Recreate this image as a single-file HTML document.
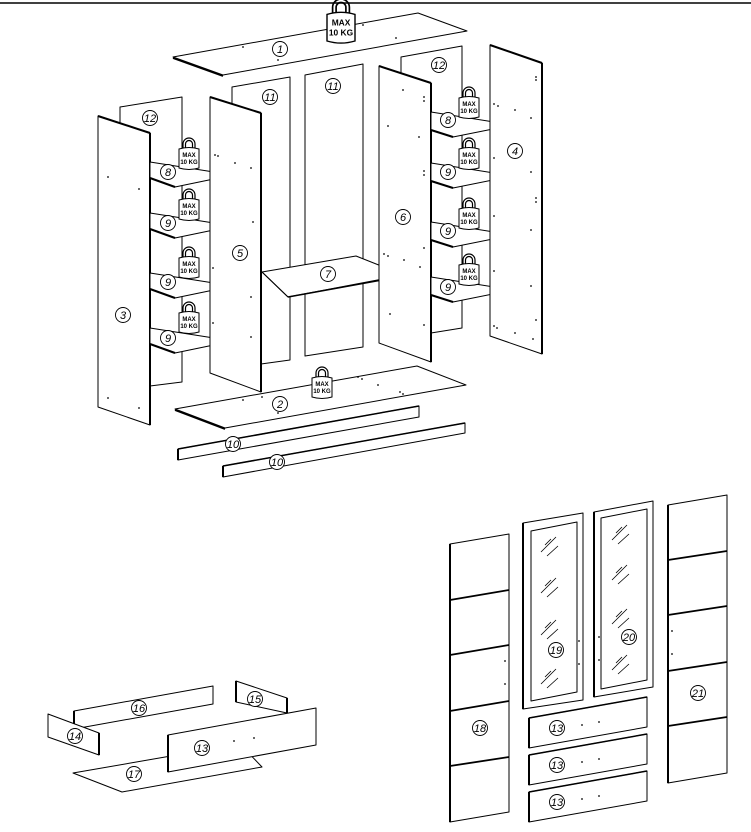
<!DOCTYPE html>
<html><head><meta charset="utf-8"><style>
html,body{margin:0;padding:0;background:#fff;}
svg{display:block;}
text{font-family:"Liberation Sans",sans-serif;}
.p{fill:#fff;stroke:#000;stroke-width:1;stroke-linejoin:round;}
.t{fill:#000;stroke:#000;stroke-width:1;}
.lb{font-size:11px;font-style:italic;text-anchor:middle;}
.c{fill:#fff;stroke:#000;stroke-width:0.9;}
.w{font-size:6px;font-weight:bold;text-anchor:middle;}
.d{fill:#000;}
</style></head><body>
<svg width="751" height="832" viewBox="0 0 751 832" xmlns="http://www.w3.org/2000/svg">
<line x1="0" y1="3" x2="751" y2="3" stroke="#000" stroke-width="1.5"/>

<polygon class="p" points="120,107 182,97 182,382 150,386 120,390"/>
<polygon class="p" points="232,87 290,77 290,360 261,364 232,368"/>
<polygon class="p" points="305,75 363,64 363,347 305,356"/>
<polygon class="p" points="401,57 462,46 462,328 431,333 401,338"/>

<polygon class="p" points="173,57 418,13 467,31 223,75"/>
<line x1="173" y1="58" x2="223" y2="76" stroke="#000" stroke-width="1.8"/>

<polygon class="p" points="98,116 150,133 150,425 98,407"/>
<line x1="98" y1="116" x2="150" y2="133" stroke="#000" stroke-width="2"/>
<line x1="150" y1="133" x2="150" y2="425" stroke="#000" stroke-width="2"/>

<g>
<polygon class="p" points="150,162 233,175 175,187 150,178"/><line x1="150" y1="178" x2="175" y2="187" stroke="#000" stroke-width="2"/>
<polygon class="p" points="150,213 233,226 175,238 150,229"/><line x1="150" y1="229" x2="175" y2="238" stroke="#000" stroke-width="2"/>
<polygon class="p" points="150,273 233,286 175,298 150,289"/><line x1="150" y1="289" x2="175" y2="298" stroke="#000" stroke-width="2"/>
<polygon class="p" points="150,328 233,341 175,353 150,344"/><line x1="150" y1="344" x2="175" y2="353" stroke="#000" stroke-width="2"/>
</g>

<polygon class="p" points="210,97 261,113 261,392 210,373"/>
<line x1="210" y1="97" x2="261" y2="113" stroke="#000" stroke-width="2"/>
<line x1="261" y1="113" x2="261" y2="392" stroke="#000" stroke-width="2"/>

<polygon class="p" points="262,272 356,256 404,275 288,297"/>
<line x1="262" y1="272" x2="288" y2="297" stroke="#000" stroke-width="1"/>
<line x1="288" y1="297" x2="404" y2="276" stroke="#000" stroke-width="1.5"/>

<polygon class="p" points="379,66 431,83 431,362 379,343"/>
<line x1="379" y1="66" x2="431" y2="83" stroke="#000" stroke-width="2"/>
<line x1="431" y1="83" x2="431" y2="362" stroke="#000" stroke-width="2"/>

<polygon class="p" points="431,112 513,125 453,137 431,130"/><line x1="431" y1="130" x2="453" y2="137" stroke="#000" stroke-width="2"/>
<polygon class="p" points="431,163 513,176 453,188 431,181"/><line x1="431" y1="181" x2="453" y2="188" stroke="#000" stroke-width="2"/>
<polygon class="p" points="431,222 513,235 453,247 431,240"/><line x1="431" y1="240" x2="453" y2="247" stroke="#000" stroke-width="2"/>
<polygon class="p" points="431,277 513,290 453,302 431,295"/><line x1="431" y1="295" x2="453" y2="302" stroke="#000" stroke-width="2"/>

<polygon class="p" points="490,45 542,63 542,354 490,336"/>
<line x1="490" y1="45" x2="542" y2="63" stroke="#000" stroke-width="2"/>
<line x1="542" y1="63" x2="542" y2="354" stroke="#000" stroke-width="2"/>

<polygon class="p" points="175,409 417,366 466,385 225,428"/>
<line x1="175" y1="410" x2="225" y2="429" stroke="#000" stroke-width="1.8"/>

<polygon class="p" points="178,449 419,406 419,417 178,460"/>
<line x1="178" y1="449" x2="419" y2="406" stroke="#000" stroke-width="1.5"/>
<line x1="178" y1="449" x2="178" y2="460" stroke="#000" stroke-width="2"/>
<polygon class="p" points="223,466 465,423 465,433 223,477"/>
<line x1="223" y1="466" x2="465" y2="423" stroke="#000" stroke-width="1.5"/>
<line x1="223" y1="466" x2="223" y2="477" stroke="#000" stroke-width="2"/>

<g class="d">
<circle cx="108" cy="177" r="0.9"/><circle cx="139" cy="189" r="0.9"/><circle cx="108" cy="398" r="0.9"/><circle cx="139" cy="408" r="0.9"/>
<circle cx="215" cy="155" r="0.9"/><circle cx="218" cy="156" r="0.9"/><circle cx="235" cy="163" r="0.9"/><circle cx="251" cy="168" r="0.9"/><circle cx="253" cy="222" r="0.9"/><circle cx="213" cy="268" r="0.9"/><circle cx="213" cy="323" r="0.9"/><circle cx="251" cy="337" r="0.9"/><circle cx="251" cy="297" r="0.9"/>
<circle cx="403" cy="90" r="0.9"/><circle cx="424" cy="97" r="0.9"/><circle cx="424" cy="101" r="0.9"/><circle cx="388" cy="126" r="0.9"/><circle cx="419" cy="137" r="0.9"/><circle cx="424" cy="171" r="0.9"/><circle cx="424" cy="175" r="0.9"/><circle cx="384" cy="254" r="0.9"/><circle cx="388" cy="256" r="0.9"/><circle cx="404" cy="260" r="0.9"/><circle cx="424" cy="248" r="0.9"/><circle cx="420" cy="267" r="0.9"/><circle cx="390" cy="314" r="0.9"/><circle cx="424" cy="325" r="0.9"/>
<circle cx="536" cy="77" r="0.9"/><circle cx="536" cy="80" r="0.9"/><circle cx="494" cy="104" r="0.9"/><circle cx="498" cy="106" r="0.9"/><circle cx="515" cy="110" r="0.9"/><circle cx="531" cy="118" r="0.9"/><circle cx="494" cy="158" r="0.9"/><circle cx="531" cy="172" r="0.9"/><circle cx="536" cy="198" r="0.9"/><circle cx="536" cy="202" r="0.9"/><circle cx="494" cy="216" r="0.9"/><circle cx="531" cy="230" r="0.9"/><circle cx="494" cy="271" r="0.9"/><circle cx="531" cy="286" r="0.9"/><circle cx="494" cy="326" r="0.9"/><circle cx="497" cy="328" r="0.9"/><circle cx="515" cy="333" r="0.9"/><circle cx="533" cy="339" r="0.9"/><circle cx="536" cy="320" r="0.9"/>
<circle cx="243" cy="47" r="0.9"/><circle cx="278" cy="60" r="0.9"/><circle cx="363" cy="25" r="0.9"/><circle cx="396" cy="38" r="0.9"/>
<circle cx="243" cy="400" r="0.9"/><circle cx="262" cy="397" r="0.9"/><circle cx="278" cy="413" r="0.9"/><circle cx="358" cy="377" r="0.9"/><circle cx="362" cy="379" r="0.9"/><circle cx="378" cy="385" r="0.9"/><circle cx="400" cy="392" r="0.9"/><circle cx="403" cy="394" r="0.9"/>
</g>

<defs>
<g id="wt">
<path d="M-6,0 L-6,-4 A6,6 0 0 1 6,-4 L6,0 M-3.5,0 L-3.5,-4 A3.5,3.5 0 0 1 3.5,-4 L3.5,0" fill="none" stroke="#000" stroke-width="1.2"/>
<path d="M-10,1 Q0,-2 10,1 L10,20 Q0,23 -10,20 Z" fill="#fff" stroke="#000" stroke-width="1"/>
</g>
</defs>
<g transform="translate(189,148)"><use href="#wt"/><text class="w" x="0" y="9">MAX</text><text class="w" x="0" y="16">10 KG</text></g>
<g transform="translate(189,199)"><use href="#wt"/><text class="w" x="0" y="9">MAX</text><text class="w" x="0" y="16">10 KG</text></g>
<g transform="translate(189,257)"><use href="#wt"/><text class="w" x="0" y="9">MAX</text><text class="w" x="0" y="16">10 KG</text></g>
<g transform="translate(189,312)"><use href="#wt"/><text class="w" x="0" y="9">MAX</text><text class="w" x="0" y="16">10 KG</text></g>
<g transform="translate(469,97)"><use href="#wt"/><text class="w" x="0" y="9">MAX</text><text class="w" x="0" y="16">10 KG</text></g>
<g transform="translate(469,148)"><use href="#wt"/><text class="w" x="0" y="9">MAX</text><text class="w" x="0" y="16">10 KG</text></g>
<g transform="translate(469,208)"><use href="#wt"/><text class="w" x="0" y="9">MAX</text><text class="w" x="0" y="16">10 KG</text></g>
<g transform="translate(469,264)"><use href="#wt"/><text class="w" x="0" y="9">MAX</text><text class="w" x="0" y="16">10 KG</text></g>
<g transform="translate(322,377)"><use href="#wt"/><text class="w" x="0" y="9">MAX</text><text class="w" x="0" y="16">10 KG</text></g>
<g transform="translate(341,13) scale(1.4)"><use href="#wt"/><text class="w" x="0" y="9">MAX</text><text class="w" x="0" y="16">10 KG</text></g>

<g>
<circle class="c" cx="280" cy="49" r="7.5"/><text class="lb" x="280" y="53">1</text>
<circle class="c" cx="280" cy="404" r="7.5"/><text class="lb" x="280" y="408">2</text>
<circle class="c" cx="123" cy="315" r="7.5"/><text class="lb" x="123" y="319">3</text>
<circle class="c" cx="515" cy="151" r="7.5"/><text class="lb" x="515" y="155">4</text>
<circle class="c" cx="240" cy="253" r="7.5"/><text class="lb" x="240" y="257">5</text>
<circle class="c" cx="403" cy="217" r="7.5"/><text class="lb" x="403" y="221">6</text>
<circle class="c" cx="328" cy="274" r="7.5"/><text class="lb" x="328" y="278">7</text>
<circle class="c" cx="168" cy="172" r="7.5"/><text class="lb" x="168" y="176">8</text>
<circle class="c" cx="168" cy="223" r="7.5"/><text class="lb" x="168" y="227">9</text>
<circle class="c" cx="168" cy="282" r="7.5"/><text class="lb" x="168" y="286">9</text>
<circle class="c" cx="168" cy="338" r="7.5"/><text class="lb" x="168" y="342">9</text>
<circle class="c" cx="448" cy="120" r="7.5"/><text class="lb" x="448" y="124">8</text>
<circle class="c" cx="448" cy="172" r="7.5"/><text class="lb" x="448" y="176">9</text>
<circle class="c" cx="448" cy="231" r="7.5"/><text class="lb" x="448" y="235">9</text>
<circle class="c" cx="448" cy="287" r="7.5"/><text class="lb" x="448" y="291">9</text>
<circle class="c" cx="233" cy="444" r="7.5"/><text class="lb" x="233" y="448">10</text>
<circle class="c" cx="277" cy="462" r="7.5"/><text class="lb" x="277" y="466">10</text>
<circle class="c" cx="270" cy="97" r="7.5"/><text class="lb" x="270" y="101">11</text>
<circle class="c" cx="333" cy="86" r="7.5"/><text class="lb" x="333" y="90">11</text>
<circle class="c" cx="150" cy="118" r="7.5"/><text class="lb" x="150" y="122">12</text>
<circle class="c" cx="439" cy="65" r="7.5"/><text class="lb" x="439" y="69">12</text>
</g>

<polygon class="p" points="73,773 240,744 262,767 122,792"/>
<polygon class="p" points="74,711 213,686 213,704 74,729"/>
<line x1="74" y1="711" x2="74" y2="729" stroke="#000" stroke-width="2"/>
<polygon class="p" points="48,714 99,733 99,755 48,737"/>
<line x1="99" y1="733" x2="99" y2="755" stroke="#000" stroke-width="2"/>
<polygon class="p" points="236,681 287,698 287,713 236,702"/>
<line x1="236" y1="681" x2="236" y2="702" stroke="#000" stroke-width="2"/>
<line x1="287" y1="698" x2="287" y2="713" stroke="#000" stroke-width="2"/>
<polygon class="p" points="168,735 316,708 316,745 168,772"/>
<line x1="168" y1="735" x2="168" y2="772" stroke="#000" stroke-width="2"/>
<circle class="d" cx="234" cy="741" r="0.9"/><circle class="d" cx="254" cy="738" r="0.9"/>
<circle class="c" cx="139" cy="708" r="7.5"/><text class="lb" x="139" y="712">16</text>
<circle class="c" cx="75" cy="736" r="7.5"/><text class="lb" x="75" y="740">14</text>
<circle class="c" cx="255" cy="699" r="7.5"/><text class="lb" x="255" y="703">15</text>
<circle class="c" cx="202" cy="748" r="7.5"/><text class="lb" x="202" y="752">13</text>
<circle class="c" cx="134" cy="774" r="7.5"/><text class="lb" x="134" y="778">17</text>

<polygon class="p" points="450,544 509,534 509,812 450,822"/>
<line x1="450" y1="544" x2="450" y2="822" stroke="#000" stroke-width="2"/>
<g stroke="#000" stroke-width="1.8">
<line x1="450" y1="600" x2="509" y2="590"/><line x1="450" y1="655" x2="509" y2="645"/><line x1="450" y1="711" x2="509" y2="701"/><line x1="450" y1="766" x2="509" y2="757"/>
</g>
<circle class="d" cx="505" cy="661" r="0.9"/><circle class="d" cx="505" cy="684" r="0.9"/>
<circle class="c" cx="480" cy="728" r="7.5"/><text class="lb" x="480" y="732">18</text>

<polygon class="p" points="523,523 583,513 583,700 523,709"/>
<line x1="523" y1="523" x2="523" y2="709" stroke="#000" stroke-width="2"/>
<polygon class="p" points="531,531 577,522 577,692 531,701"/>
<polygon class="p" points="594,512 653,501 653,687 594,697"/>
<line x1="594" y1="512" x2="594" y2="697" stroke="#000" stroke-width="2"/>
<polygon class="p" points="601,518 647,509 647,680 601,689"/>
<g stroke="#000" stroke-width="0.8">
<path d="M541,552 L556,537 M547,556 L558,546 M545,545 L551,539"/>
<path d="M541,593 L556,578 M547,597 L558,587 M545,586 L551,580"/>
<path d="M541,635 L556,620 M547,639 L558,629 M545,628 L551,622"/>
<path d="M541,684 L556,669 M547,688 L558,678 M545,677 L551,671"/>
<path d="M612,540 L627,525 M618,544 L629,534 M616,533 L622,527"/>
<path d="M612,580 L627,565 M618,584 L629,574 M616,573 L622,567"/>
<path d="M612,624 L627,609 M618,628 L629,618 M616,617 L622,611"/>
<path d="M612,670 L627,655 M618,674 L629,664 M616,663 L622,657"/>
</g>
<circle class="d" cx="579" cy="641" r="0.9"/><circle class="d" cx="579" cy="664" r="0.9"/><circle class="d" cx="599" cy="637" r="0.9"/><circle class="d" cx="599" cy="660" r="0.9"/>
<circle class="c" cx="556" cy="650" r="7.5"/><text class="lb" x="556" y="654">19</text>
<circle class="c" cx="629" cy="637" r="7.5"/><text class="lb" x="629" y="641">20</text>

<polygon class="p" points="668,505 727,495 727,773 668,783"/>
<line x1="668" y1="505" x2="668" y2="783" stroke="#000" stroke-width="2"/>
<g stroke="#000" stroke-width="1.8">
<line x1="668" y1="560" x2="727" y2="551"/><line x1="668" y1="615" x2="727" y2="606"/><line x1="668" y1="671" x2="727" y2="662"/><line x1="668" y1="726" x2="727" y2="717"/>
</g>
<circle class="d" cx="672" cy="631" r="0.9"/><circle class="d" cx="672" cy="654" r="0.9"/>
<circle class="c" cx="698" cy="693" r="7.5"/><text class="lb" x="698" y="697">21</text>

<g>
<polygon class="p" points="529,718 647,697 647,727 529,748"/>
<line x1="529" y1="718" x2="529" y2="748" stroke="#000" stroke-width="2"/>
<line x1="529" y1="718" x2="647" y2="697" stroke="#000" stroke-width="1.5"/>
<circle class="d" cx="582" cy="725" r="0.9"/><circle class="d" cx="599" cy="722" r="0.9"/>
<circle class="c" cx="557" cy="728" r="7.5"/><text class="lb" x="557" y="732">13</text>
</g>
<g transform="translate(0,37)">
<polygon class="p" points="529,718 647,697 647,727 529,748"/>
<line x1="529" y1="718" x2="529" y2="748" stroke="#000" stroke-width="2"/>
<line x1="529" y1="718" x2="647" y2="697" stroke="#000" stroke-width="1.5"/>
<circle class="d" cx="582" cy="725" r="0.9"/><circle class="d" cx="599" cy="722" r="0.9"/>
<circle class="c" cx="557" cy="728" r="7.5"/><text class="lb" x="557" y="732">13</text>
</g>
<g transform="translate(0,74)">
<polygon class="p" points="529,718 647,697 647,727 529,748"/>
<line x1="529" y1="718" x2="529" y2="748" stroke="#000" stroke-width="2"/>
<line x1="529" y1="718" x2="647" y2="697" stroke="#000" stroke-width="1.5"/>
<circle class="d" cx="582" cy="725" r="0.9"/><circle class="d" cx="599" cy="722" r="0.9"/>
<circle class="c" cx="557" cy="728" r="7.5"/><text class="lb" x="557" y="732">13</text>
</g>
</svg>
</body></html>
